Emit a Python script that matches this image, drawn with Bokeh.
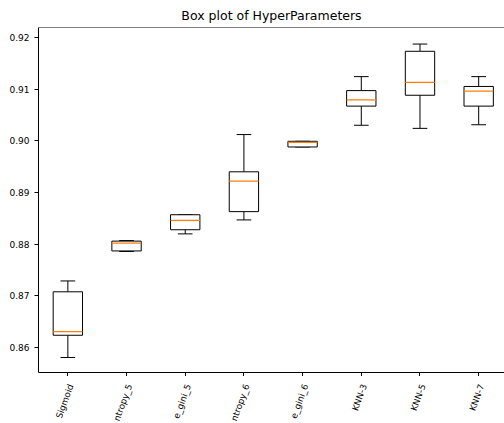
import math
from bokeh.plotting import figure
from bokeh.layouts import column
from bokeh.core.properties import value
from bokeh.models import FixedTicker, Range1d, Span, PrintfTickFormatter
from bokeh.embed import file_html
from bokeh.resources import INLINE

categories = ["Sigmoid", "ntropy_5", "e_gini_5", "ntropy_6", "e_gini_6", "KNN-3", "KNN-5", "KNN-7"]
whisker_low = [0.8581, 0.8786, 0.8820, 0.8847, 0.8988, 0.9030, 0.9024, 0.9031]
q1 = [0.8624, 0.8787, 0.8828, 0.8863, 0.8988, 0.9067, 0.9088, 0.9067]
median = [0.8631, 0.8802, 0.8846, 0.8922, 0.8997, 0.9079, 0.9113, 0.9096]
q3 = [0.8708, 0.8806, 0.8857, 0.8940, 0.8999, 0.9097, 0.9173, 0.9105]
whisker_high = [0.8729, 0.8807, 0.8857, 0.9012, 0.8999, 0.9124, 0.9187, 0.9124]
y_ticks = [0.86, 0.87, 0.88, 0.89, 0.90, 0.91, 0.92]

pos = list(range(1, len(categories) + 1))
box_w = 0.5
cap_w = 0.25
y_lo, y_hi = 0.8552, 0.9219
xr = Range1d(0.5, 8.44)

p = figure(width=504, height=376, output_backend="svg", toolbar_location=None,
           x_range=xr, y_range=Range1d(y_lo, y_hi),
           min_border_left=38, min_border_right=0, min_border_top=25, min_border_bottom=4,
           title="Box plot of HyperParameters")
p.outline_line_color = None
p.xgrid.visible = False
p.ygrid.visible = False
p.background_fill_color = "white"
p.border_fill_color = "white"

p.title.align = "center"
p.title.text_font = "DejaVu Sans"
p.title.text_font_size = "12.5px"
p.title.text_font_style = "normal"
p.title.text_color = "black"

# whisker stems
p.segment(x0=pos, x1=pos, y0=q3, y1=whisker_high, line_color="black", line_width=1)
p.segment(x0=pos, x1=pos, y0=whisker_low, y1=q1, line_color="black", line_width=1)
# caps
p.segment(x0=[x - cap_w / 2 for x in pos], x1=[x + cap_w / 2 for x in pos],
          y0=whisker_high, y1=whisker_high, line_color="black", line_width=1)
p.segment(x0=[x - cap_w / 2 for x in pos], x1=[x + cap_w / 2 for x in pos],
          y0=whisker_low, y1=whisker_low, line_color="black", line_width=1)
# boxes
p.quad(left=[x - box_w / 2 for x in pos], right=[x + box_w / 2 for x in pos],
       bottom=q1, top=q3, fill_color="white", line_color="black", line_width=1)
# medians
p.segment(x0=[x - box_w / 2 for x in pos], x1=[x + box_w / 2 for x in pos],
          y0=median, y1=median, line_color="#ff7f0e", line_width=1.3)

# top spine
p.add_layout(Span(location=y_hi, dimension="width", line_color="black", line_width=1))

for ax in (p.xaxis[0], p.yaxis[0]):
    ax.axis_line_color = "black"
    ax.axis_line_width = 1
    ax.major_tick_line_color = "black"
    ax.major_tick_in = 0
    ax.major_tick_out = 4
    ax.minor_tick_line_color = None
    ax.major_label_text_font = "DejaVu Sans"
    ax.major_label_text_font_size = "9px"
    ax.major_label_text_color = "black"

p.xaxis.ticker = FixedTicker(ticks=pos)
p.xaxis.major_label_overrides = {x: "" for x in pos}
p.xaxis.major_label_standoff = 0
p.yaxis.ticker = FixedTicker(ticks=y_ticks)
p.yaxis.formatter = PrintfTickFormatter(format="%.2f")

# tick label strip (rotated category names)
p2 = figure(width=504, height=47, output_backend="svg", toolbar_location=None,
            x_range=xr, y_range=Range1d(0, 1), x_axis_type=None, y_axis_type=None,
            min_border_left=38, min_border_right=0, min_border_top=0, min_border_bottom=0)
p2.outline_line_color = None
p2.xgrid.visible = False
p2.ygrid.visible = False
p2.background_fill_color = "white"
p2.border_fill_color = "white"
p2.text(x=pos, y=[1] * len(pos), text=categories, angle=math.radians(70),
        text_align="right", text_baseline="middle", x_offset=3, y_offset=8,
        text_font=value("DejaVu Sans"), text_font_size=value("8.8px"), text_color="black")

open("out.html", "w").write(file_html(column(p, p2, spacing=0), INLINE))
